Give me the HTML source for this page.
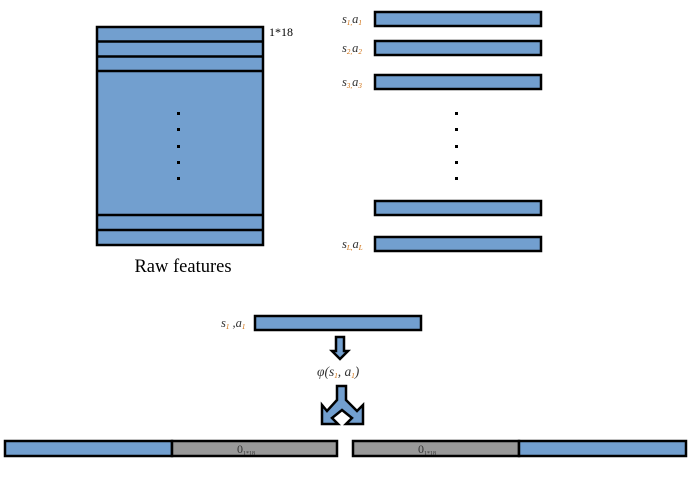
<!DOCTYPE html>
<html><head><meta charset="utf-8"><style>
html,body{margin:0;padding:0;background:#fff;}
svg{display:block;}
text{font-family:"Liberation Serif",serif;}
</style></head><body>
<svg width="692" height="484" viewBox="0 0 692 484">
<g stroke="#000" stroke-width="2.5" fill="#729fcf">
<rect x="97" y="27" width="166" height="218"/>
<line x1="97" y1="41.5" x2="263" y2="41.5"/>
<line x1="97" y1="56.5" x2="263" y2="56.5"/>
<line x1="97" y1="71" x2="263" y2="71"/>
<line x1="97" y1="215" x2="263" y2="215"/>
<line x1="97" y1="230" x2="263" y2="230"/>
</g>
<g fill="#000">
<rect x="177" y="112" width="3" height="3"/><rect x="177" y="128" width="3" height="3"/><rect x="177" y="145" width="3" height="3"/><rect x="177" y="161" width="3" height="3"/><rect x="177" y="177" width="3" height="3"/>
</g>
<text x="269" y="36" font-size="12" fill="#000">1*18</text>
<text x="183" y="272" font-size="18.5" text-anchor="middle" fill="#000">Raw features</text>

<g stroke="#000" stroke-width="2.5" fill="#729fcf">
<rect x="375" y="12" width="166" height="14"/>
<rect x="375" y="41" width="166" height="14"/>
<rect x="375" y="75" width="166" height="14"/>
<rect x="375" y="201" width="166" height="14"/>
<rect x="375" y="237" width="166" height="14"/>
</g>
<g font-size="12.5" font-style="italic" fill="#333">
<text x="342" y="23">s<tspan font-size="7" dy="2" fill="#c60">1,</tspan><tspan dy="-2">a</tspan><tspan font-size="7" dy="2" fill="#c60">1</tspan></text>
<text x="342" y="52">s<tspan font-size="7" dy="2" fill="#c60">2,</tspan><tspan dy="-2">a</tspan><tspan font-size="7" dy="2" fill="#c60">2</tspan></text>
<text x="342" y="86">s<tspan font-size="7" dy="2" fill="#c60">3,</tspan><tspan dy="-2">a</tspan><tspan font-size="7" dy="2" fill="#c60">3</tspan></text>
<text x="342" y="248">s<tspan font-size="7" dy="2" fill="#c60">L,</tspan><tspan dy="-2">a</tspan><tspan font-size="7" dy="2" fill="#c60">L</tspan></text>
</g>
<g fill="#000">
<rect x="455" y="112" width="3" height="3"/><rect x="455" y="128" width="3" height="3"/><rect x="455" y="145" width="3" height="3"/><rect x="455" y="161" width="3" height="3"/><rect x="455" y="177" width="3" height="3"/>
</g>

<text x="221" y="327" font-size="12.5" font-style="italic" fill="#333">s<tspan font-size="7" dy="2" fill="#c60">1</tspan><tspan dy="-2"> ,a</tspan><tspan font-size="7" dy="2" fill="#c60">1</tspan></text>
<rect x="255" y="316" width="166" height="14" fill="#729fcf" stroke="#000" stroke-width="2.5"/>
<path d="M336 337 H344 V351 H348 L340 359 L332 351 H336 Z" fill="#729fcf" stroke="#000" stroke-width="2.5"/>
<text x="317" y="376" font-size="13.5" font-style="italic" fill="#333">φ(s<tspan font-size="7" dy="2" fill="#c60">1</tspan><tspan dy="-2">, a</tspan><tspan font-size="7" dy="2" fill="#c60">1</tspan><tspan dy="-2">)</tspan></text>
<path d="M337 386 H346 V400 L357 411 L363 405 V424 H346 L352 418 L342 410 L332 418 L338 424 H322 V405 L327 411 L337 400 Z" fill="#729fcf" stroke="#000" stroke-width="2.5" stroke-linejoin="miter"/>

<g stroke="#000" stroke-width="2.5">
<rect x="5" y="441" width="167" height="15" fill="#729fcf"/>
<rect x="172" y="441" width="165" height="15" fill="#999"/>
</g>
<g stroke="#000" stroke-width="2.5">
<rect x="353" y="441" width="166" height="15" fill="#999"/>
<rect x="519" y="441" width="167" height="15" fill="#729fcf"/>
</g>
<text x="237" y="453" font-size="12" fill="#333">0<tspan font-size="6" dy="2">1*18</tspan></text>
<text x="418" y="453" font-size="12" fill="#333">0<tspan font-size="6" dy="2">1*18</tspan></text>
</svg>
</body></html>
